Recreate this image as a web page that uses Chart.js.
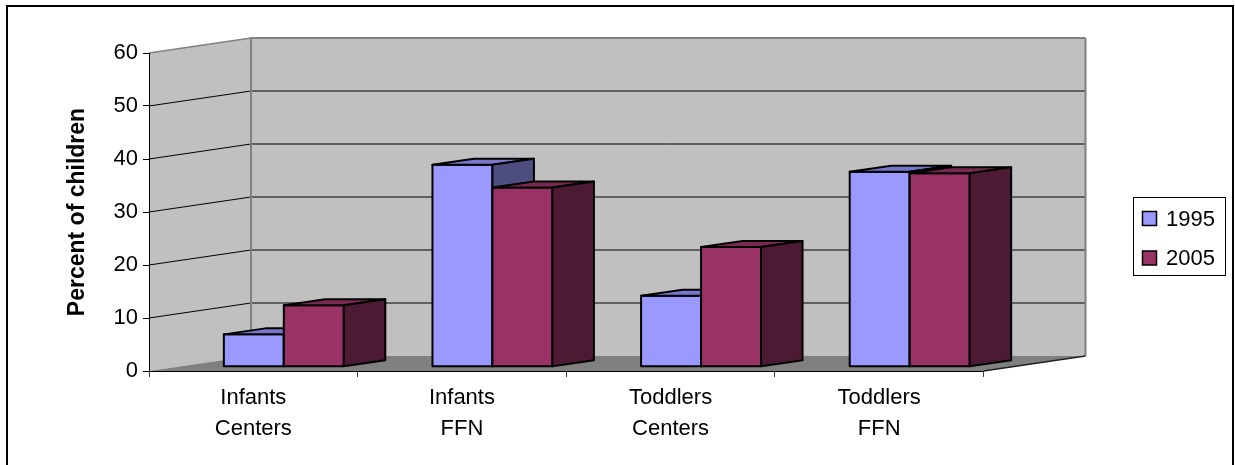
<!DOCTYPE html>
<html>
<head>
<meta charset="utf-8">
<script src="https://cdn.jsdelivr.net/npm/chart.js@4/dist/chart.umd.min.js"></script>
<style>
  html, body { margin: 0; padding: 0; background: #ffffff; }
  canvas { display: block; }
</style>
</head>
<body>
<canvas id="chart" width="1235" height="465"></canvas>
<script>
// Share of children by care setting, 1995 vs 2005
const categories = [['Infants', 'Centers'], ['Infants', 'FFN'], ['Toddlers', 'Centers'], ['Toddlers', 'FFN']];
const seriesNames = ['1995', '2005'];
const values1995 = [6.1, 38.1, 13.4, 36.8];
const values2005 = [11.6, 33.8, 22.6, 36.5];
const yTickMin = 0;
const yTickMax = 60;
const yTickStep = 10;
const yAxisTitle = 'Percent of children';

// ---- drawing style ----
const FONT = "'Liberation Sans', Arial, Helvetica, sans-serif";
const wallDepth = { x: 102, y: -15 };     // oblique offset of the back wall
const barShift = { x: 30.5, y: -4.3 };    // bars sit a little behind the front plane
const barDepth = { x: 41.5, y: -6 };      // thickness of each column
const faces = [
  { front: '#9999ff', top: '#7777cc', side: '#4d4d80' },
  { front: '#993366', top: '#7a2952', side: '#4d1a33' }
];

function polygon(ctx, pts, fill, stroke, lw) {
  ctx.beginPath();
  ctx.moveTo(pts[0][0], pts[0][1]);
  for (let i = 1; i < pts.length; i++) ctx.lineTo(pts[i][0], pts[i][1]);
  ctx.closePath();
  if (fill) { ctx.fillStyle = fill; ctx.fill(); }
  if (stroke) { ctx.strokeStyle = stroke; ctx.lineWidth = lw || 1; ctx.stroke(); }
}

function line(ctx, x1, y1, x2, y2, color, lw) {
  ctx.beginPath();
  ctx.moveTo(x1, y1);
  ctx.lineTo(x2, y2);
  ctx.strokeStyle = color;
  ctx.lineWidth = lw;
  ctx.stroke();
}

// Side wall, back wall, floor and their gridlines, behind the axes
const wallsPlugin = {
  id: 'walls',
  beforeDraw(chart) {
    const { ctx, chartArea: a, scales: { y } } = chart;
    const dx = wallDepth.x, dy = wallDepth.y;
    const yTop = y.getPixelForValue(y.max);
    const yBot = y.getPixelForValue(y.min);
    ctx.save();
    ctx.fillStyle = '#ffffff';
    ctx.fillRect(0, 0, chart.width, chart.height);
    // side wall
    polygon(ctx, [[a.left, yTop], [a.left + dx, yTop + dy], [a.left + dx, yBot + dy], [a.left, yBot]], '#c0c0c0');
    // back wall
    polygon(ctx, [[a.left + dx, yTop + dy], [a.right + dx, yTop + dy], [a.right + dx, yBot + dy], [a.left + dx, yBot + dy]], '#c0c0c0');
    // floor
    polygon(ctx, [[a.left, yBot], [a.right, yBot], [a.right + dx, yBot + dy], [a.left + dx, yBot + dy]], '#808080');
    // gridlines
    y.ticks.forEach(t => {
      if (t.value === y.min || t.value === y.max) return;
      const p = y.getPixelForValue(t.value);
      line(ctx, a.left, p, a.left + dx, p + dy, '#000000', 1);
      line(ctx, a.left + dx, p + dy, a.right + dx, p + dy, '#000000', 1);
    });
    // wall edges
    line(ctx, a.left, yTop, a.left + dx, yTop + dy, '#808080', 1.5);
    line(ctx, a.left + dx, yTop + dy, a.right + dx, yTop + dy, '#808080', 2);
    line(ctx, a.left + dx, yTop + dy, a.left + dx, yBot + dy, '#808080', 2);
    line(ctx, a.right + dx, yTop + dy, a.right + dx, yBot + dy, '#808080', 2);
    line(ctx, a.right, yBot, a.right + dx, yBot + dy, '#202020', 1.5);
    ctx.restore();
  }
};

// Columns: the library's bars are pushed back into the depth slice, then
// each column gets its front, top and side faces painted left to right
const columnsPlugin = {
  id: 'columns',
  beforeDatasetsDraw(chart) {
    chart.ctx.save();
    chart.ctx.translate(barShift.x, barShift.y);
  },
  afterDatasetsDraw(chart) {
    const ctx = chart.ctx;
    ctx.restore();
    const metas = chart.data.datasets.map((d, i) => chart.getDatasetMeta(i));
    const n = chart.data.labels.length;
    ctx.save();
    ctx.translate(barShift.x, barShift.y);
    ctx.lineJoin = 'round';
    for (let c = 0; c < n; c++) {
      metas.forEach((meta, di) => {
        const bar = meta.data[c];
        if (!bar) return;
        const { x, y, base, width } = bar.getProps(['x', 'y', 'base', 'width'], true);
        const x0 = x - width / 2, x1 = x + width / 2;
        const bx = barDepth.x, by = barDepth.y;
        const col = faces[di];
        polygon(ctx, [[x0, y], [x1, y], [x1, base], [x0, base]], col.front, '#000000', 2);
        polygon(ctx, [[x0, y], [x0 + bx, y + by], [x1 + bx, y + by], [x1, y]], col.top, '#000000', 2);
        polygon(ctx, [[x1, y], [x1 + bx, y + by], [x1 + bx, base + by], [x1, base]], col.side, '#000000', 2);
      });
    }
    ctx.restore();
  }
};

// Boxed legend on the right and the outer frame
const legendFramePlugin = {
  id: 'legendFrame',
  afterDraw(chart) {
    const ctx = chart.ctx;
    ctx.save();
    const box = { x: 1133.5, y: 197.5, w: 92, h: 78 };
    ctx.strokeStyle = '#000000';
    ctx.lineWidth = 1;
    ctx.strokeRect(box.x, box.y, box.w, box.h);
    ctx.font = '22px ' + FONT;
    ctx.textAlign = 'left';
    ctx.textBaseline = 'alphabetic';
    chart.data.datasets.forEach((ds, i) => {
      const rowY = box.y + 14 + i * 39.5;
      ctx.fillStyle = faces[i].front;
      ctx.fillRect(box.x + 9, rowY, 14, 14);
      ctx.lineWidth = 1.5;
      ctx.strokeStyle = '#000000';
      ctx.strokeRect(box.x + 9, rowY, 14, 14);
      ctx.fillStyle = '#000000';
      ctx.fillText(ds.label, box.x + 32.5, rowY + 14);
    });
    ctx.lineWidth = 2;
    ctx.strokeStyle = '#000000';
    ctx.strokeRect(7, 6, 1226, 490);
    ctx.restore();
  }
};

const chart = new Chart(document.getElementById('chart'), {
  type: 'bar',
  data: {
    labels: categories,
    datasets: [
      { label: seriesNames[0], data: values1995, backgroundColor: faces[0].front, borderWidth: 0 },
      { label: seriesNames[1], data: values2005, backgroundColor: faces[1].front, borderWidth: 0 }
    ]
  },
  options: {
    responsive: false,
    animation: false,
    devicePixelRatio: 1,
    layout: { padding: { left: 0, top: 53, right: 251.5, bottom: 0 } },
    datasets: { bar: { categoryPercentage: 0.575, barPercentage: 1.0, clip: false } },
    plugins: {
      legend: { display: false },
      tooltip: { enabled: false }
    },
    scales: {
      x: {
        offset: true,
        grid: { offset: true, drawOnChartArea: false, drawTicks: true, tickLength: 6, color: '#404040' },
        border: { display: true, color: '#000000', width: 1 },
        ticks: {
          color: '#000000',
          padding: 5,
          maxRotation: 0,
          autoSkip: false,
          font: { family: FONT, size: 22, lineHeight: 1.42 }
        },
        afterFit(scale) { scale.height = 94; }
      },
      y: {
        min: yTickMin,
        max: yTickMax,
        grid: { drawOnChartArea: false, drawTicks: true, tickLength: 6, color: '#000000' },
        border: { display: true, color: '#000000', width: 1 },
        ticks: {
          stepSize: yTickStep,
          color: '#000000',
          padding: 5,
          font: { family: FONT, size: 22 }
        },
        title: {
          display: true,
          text: yAxisTitle,
          color: '#000000',
          padding: { top: 64, bottom: 0 },
          font: { family: FONT, size: 23, weight: 'bold' }
        },
        afterFit(scale) { scale.width = 149; }
      }
    }
  },
  plugins: [wallsPlugin, columnsPlugin, legendFramePlugin]
});
</script>
</body>
</html>
